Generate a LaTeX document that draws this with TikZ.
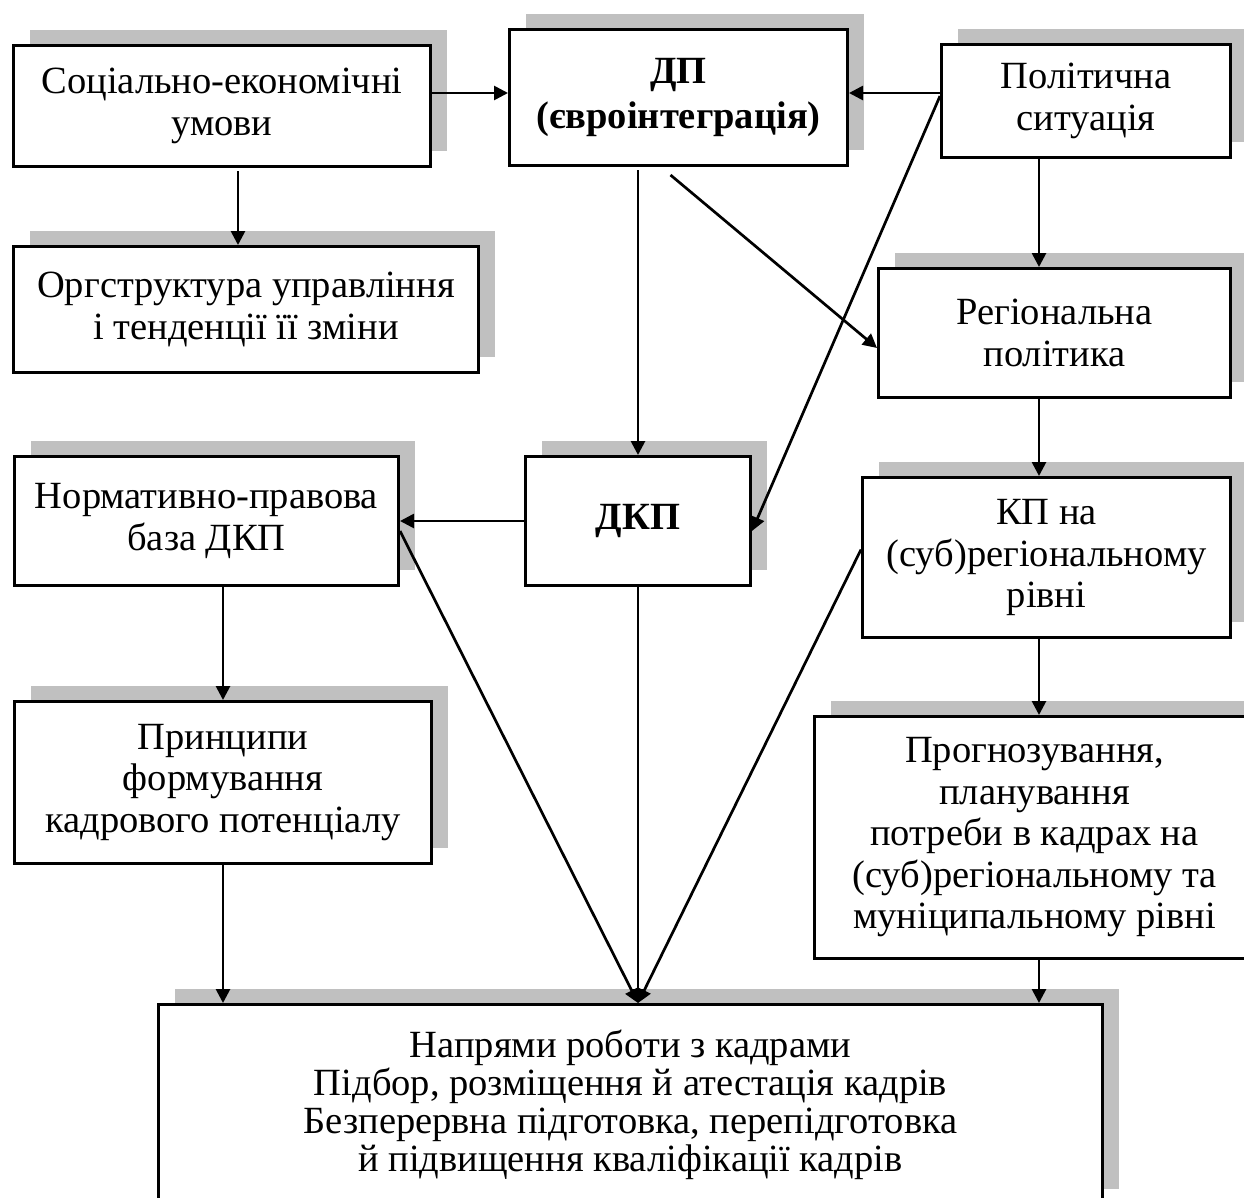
\documentclass[tikz,border=0pt]{standalone}
\usepackage{fontspec}
\setmainfont{Liberation Serif}
\usetikzlibrary{arrows.meta,shadows,calc}
\definecolor{shade}{RGB}{192,192,192}
\begin{document}
\begin{tikzpicture}[x=1pt,y=-1pt,
  box/.style={draw, line width=3pt, fill=white, align=center, anchor=north west,
    inner sep=0pt, font=\fontsize{38.5}{41.5}\selectfont,
    drop shadow={shadow xshift=16pt, shadow yshift=16pt, fill=shade, opacity=1}},
  link/.style={line width=2.7pt, -{Triangle[length=14pt,width=14pt]}}]
\useasboundingbox (0,0) rectangle (1244,1197);
\clip (0,0) rectangle (1244,1197);

% boxes
\node[box, minimum width=417pt, minimum height=121pt] (soc) at (12,44) {Соціально-економічні\\умови};
\node[box, minimum width=338pt, minimum height=136pt, font=\fontsize{38.5}{45}\selectfont\bfseries] (dp) at (508,28) {ДП\\(євроінтеграція)};
\node[box, minimum width=289pt, minimum height=113pt] (pol) at (940,43) {Політична\\ситуація};
\node[box, minimum width=465pt, minimum height=126pt] (org) at (12,245) {Оргструктура управління\\і тенденції її зміни};
\node[box, minimum width=352pt, minimum height=129pt] (reg) at (877,267) {Регіональна\\політика};
\node[box, minimum width=384pt, minimum height=129pt] (norm) at (13,455) {Нормативно-правова\\база ДКП};
\node[box, minimum width=225pt, minimum height=129pt, font=\fontsize{38.5}{45}\selectfont\bfseries] (dkp) at (524,455) {ДКП};
\node[box, minimum width=368pt, minimum height=160pt] (kp) at (861,476) {КП на\\(суб)регіональному\\рівні};
\node[box, minimum width=417pt, minimum height=162pt] (princ) at (13,700) {Принципи\\формування\\кадрового потенціалу};
\node[box, minimum width=440pt, minimum height=242pt] (prog) at (813,715) {Прогнозування,\\планування\\потреби в кадрах на\\(суб)регіональному та\\муніципальному рівні};
\node[box, minimum width=944pt, minimum height=200pt, font=\fontsize{38.5}{38}\selectfont] (napr) at (157,1003) {Напрями роботи з кадрами\\Підбор, розміщення й атестація кадрів\\Безперервна підготовка, перепідготовка\\й підвищення кваліфікації кадрів};

% helper rows and columns
\coordinate (rowA) at (0,93);
\coordinate (rowB) at (0,96);
\coordinate (colR) at (1039,0);

% connectors
\draw[link] (soc.east |- rowA) -- (dp.west |- rowA);
\draw[link] (pol.west |- rowA) -- (dp.east |- rowA);
\draw[link] (pol.west |- rowB) -- ([yshift=-10pt]dkp.east);
\draw[link] ([xshift=16pt,yshift=-3pt]soc.south) -- ([xshift=16pt]soc.south |- org.north);
\draw[link] ([yshift=-3pt]dkp.north |- dp.south) -- (dkp.north);
\draw[link] ([xshift=-8pt,yshift=-8pt]dp.south) -- ([yshift=-15pt]reg.west);
\draw[link] (pol.south -| colR) -- (reg.north -| colR);
\draw[link] (reg.south -| colR) -- (kp.north -| colR);
\draw[link] (kp.south -| colR) -- (prog.north -| colR);
\draw[link] (prog.south -| colR) -- (napr.north -| colR);
\draw[link] (dkp.west) -- (norm.east |- dkp.west);
\draw[link] (princ.north |- norm.south) -- (princ.north);
\draw[link] (princ.south) -- (princ.south |- napr.north);
\draw[link] ([yshift=-10pt]norm.east) -- (dkp.south |- napr.north);
\draw[link] (dkp.south) -- (dkp.south |- napr.north);
\draw[link] ([yshift=8pt]kp.west) -- (dkp.south |- napr.north);
\end{tikzpicture}
\end{document}
